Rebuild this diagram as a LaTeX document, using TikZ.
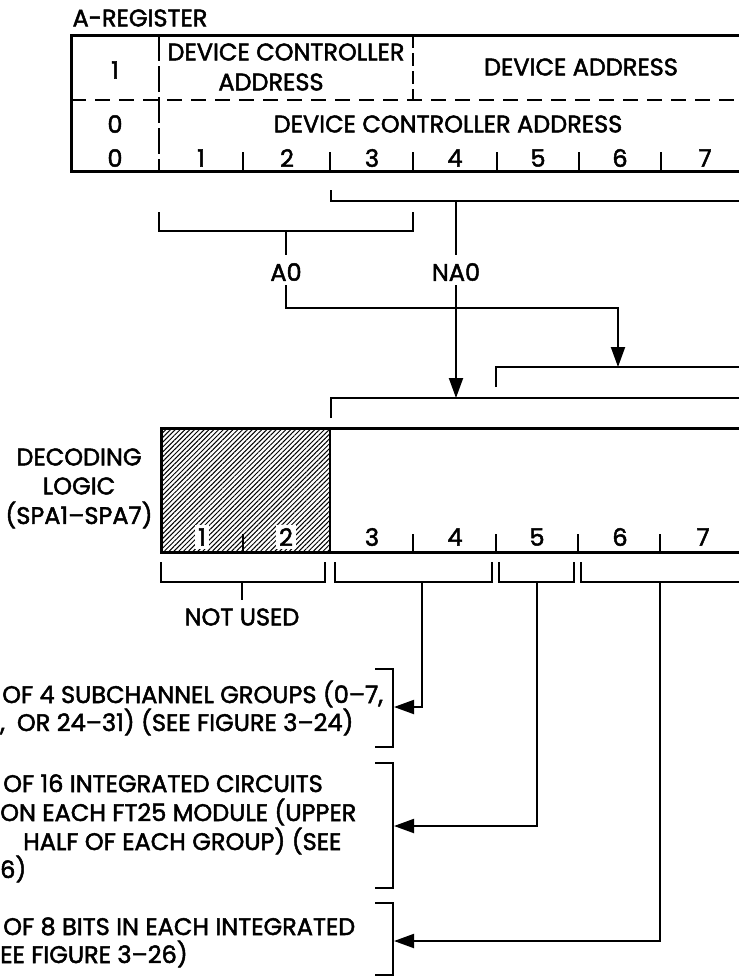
\documentclass[tikz,border=0pt]{standalone}
\usepackage{fontspec}
\setmainfont{Poppins}[FakeBold=2]
\usetikzlibrary{arrows.meta,patterns.meta}
\begin{document}
\begin{tikzpicture}[x=1pt,y=-1pt,
  box/.style={line width=3pt},
  conn/.style={line width=2pt},
  arr/.style={conn,-{Triangle[length=20pt,width=14pt]}},
  lbl/.style={font=\fontsize{24}{29}\selectfont, inner sep=0pt},
  txt/.style={lbl, anchor=base west},
  dig/.style={lbl, anchor=center},
]
\useasboundingbox (0,0) rectangle (739,980);
\clip (0,0) rectangle (739,980);

% ---------- A-register ----------
\node[lbl] (areg) at (140,18) {A-REGISTER};
\draw[box] (800,35) -- (71,35) -- (71,171) -- (800,171);
\draw[conn, dash pattern=on 15pt off 9pt] (71,100) -- (800,100);
\draw[conn, dash pattern=on 26pt off 5pt] (159,35) -- (159,171);
\draw[conn, dash pattern=on 13pt off 5pt] (413,35) -- (413,100);
\foreach \x in {243,330,413,497,579,661} \draw[conn] (\x,152) -- (\x,171);

\node[dig] (one) at (115,70) {1};
\node[dig] (dca1) at (286,52) {DEVICE CONTROLLER};
\node[dig] (dca2) at (271,82) {ADDRESS};
\node[dig] (da) at (581,67) {DEVICE ADDRESS};
\node[dig] (z1) at (115,124) {0};
\node[dig] (dca) at (448,124) {DEVICE CONTROLLER ADDRESS};
\node[dig] (b0) at (115,158) {0};
\node[dig] (b1) at (201,158) {1};
\node[dig] (b2) at (287,158) {2};
\node[dig] (b3) at (372,158) {3};
\node[dig] (b4) at (455,158) {4};
\node[dig] (b5) at (538,158) {5};
\node[dig] (b6) at (620,158) {6};
\node[dig] (b7) at (705,158) {7};

% ---------- brackets and signals ----------
\node[dig] (A0) at (286,272) {A0};
\node[dig] (NA0) at (456,272) {NA0};
\coordinate (a0top) at (286,231);
\coordinate (na0top) at (456,201);
\draw[conn] (159,212) -- (159,231) -- (413,231) -- (413,212);
\draw[conn] (a0top) -- ([yshift=8pt]A0.north);
\draw[conn] (331,190) -- (331,201) -- (800,201);
\draw[conn] (na0top) -- ([yshift=8pt]NA0.north);
\coordinate (a0tip) at (618,367);
\coordinate (na0tip) at (456,398);
\draw[arr] ([yshift=-4pt]A0.south) |- (a0tip|-0,308) -- (a0tip);
\draw[arr] ([yshift=-4pt]NA0.south) -- (na0tip);
\draw[conn] (496,387) -- (496,367) -- (800,367);
\draw[conn] (331,418) -- (331,398) -- (800,398);

% ---------- decoding logic register ----------
\node[lbl] (dec1) at (79,457) {DECODING};
\node[lbl] (dec2) at (79,486) {LOGIC};
\node[lbl] (dec3) at (79,515) {(SPA1–SPA7)};
\fill[pattern={Lines[angle=45,distance=3.4pt,line width=1pt]}] (161,428) rectangle (330,552);
\draw[conn] (243,534) -- (243,552);
\draw[conn] (330,428) -- (330,552);
\node[dig, fill=white, inner sep=3pt] (c1) at (202,537) {1};
\node[dig, fill=white, inner sep=3pt] (c2) at (286,537) {2};
\draw[box] (800,428) -- (161,428) -- (161,552) -- (800,552);
\foreach \x in {413,496,578,660} \draw[conn] (\x,534) -- (\x,552);
\node[dig] (c3) at (372,537) {3};
\node[dig] (c4) at (455,537) {4};
\node[dig] (c5) at (537,537) {5};
\node[dig] (c6) at (620,537) {6};
\node[dig] (c7) at (703,537) {7};

% ---------- lower brackets ----------
\node[dig] (nu) at (242,617) {NOT USED};
\draw[conn] (161,562) -- (161,582) -- (325,582) -- (325,562);
\draw[conn] (242,582) -- ([yshift=8pt]nu.north);
\draw[conn] (335,562) -- (335,582) -- (492,582) -- (492,562);
\draw[conn] (499,562) -- (499,582) -- (574,582) -- (574,562);
\draw[conn] (581,562) -- (581,582) -- (800,582);

% ---------- text blocks ----------
\draw[conn] (375,669) -- (393,669) -- (393,747) -- (375,747);
\draw[conn] (375,763) -- (393,763) -- (393,888) -- (375,888);
\draw[conn] (375,903) -- (393,903) -- (393,975) -- (375,975);
\coordinate (t1) at (394,707);
\coordinate (t2) at (394,826);
\coordinate (t3) at (394,941);
\draw[arr] (422,582) |- (t1);
\draw[arr] (537,582) |- (t2);
\draw[arr] (660,582) |- (t3);

\node[txt] (l1) at (2,703) {OF 4 SUBCHANNEL GROUPS (0–7,};
\node[txt] (l2) at (0,731) {,\hspace{12pt}OR 24–31) (SEE FIGURE 3–24)};
\node[txt] (l3) at (3,792) {OF 16 INTEGRATED CIRCUITS};
\node[txt] (l4) at (0,821) {ON EACH FT25 MODULE (UPPER};
\node[txt] (l5) at (23,850) {HALF OF EACH GROUP) (SEE};
\node[txt] (l6) at (0,878) {6)};
\node[txt] (l7) at (3,935) {OF 8 BITS IN EACH INTEGRATED};
\node[txt] (l8) at (0,963) {EE FIGURE 3–26)};
\end{tikzpicture}
\end{document}
